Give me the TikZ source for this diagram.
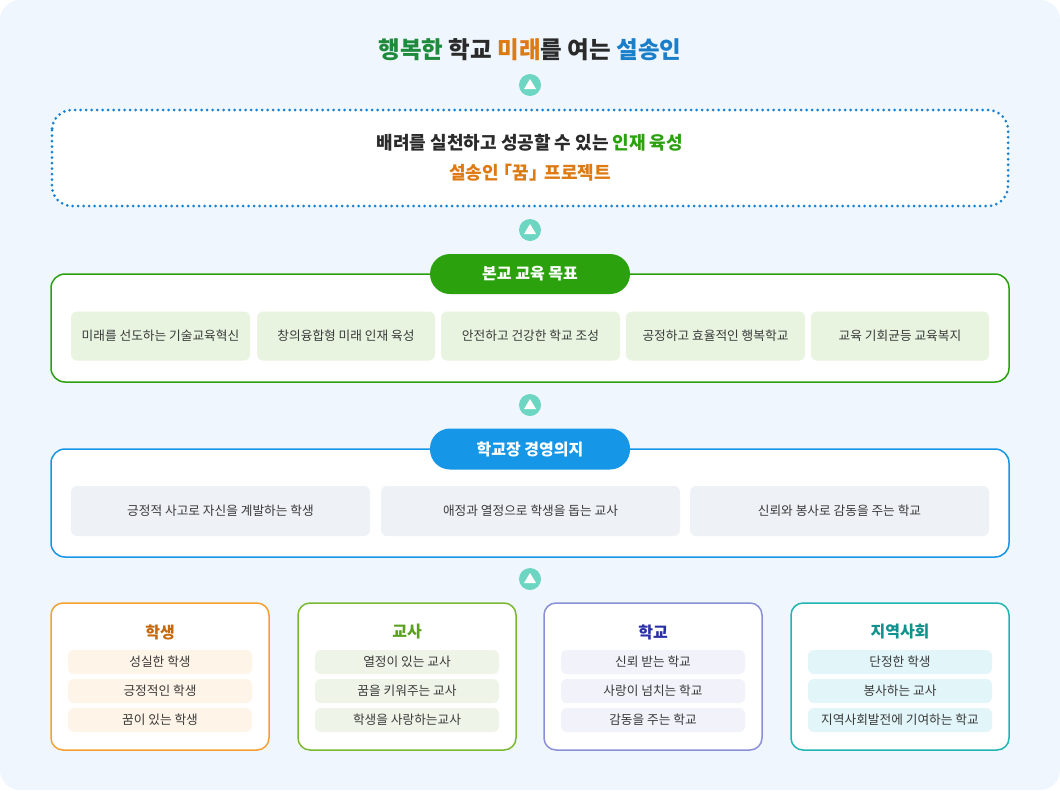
\documentclass[tikz,border=0pt]{standalone}
\usepackage{fontspec}
\usetikzlibrary{calc}
\setmainfont{Noto Sans CJK KR}
\newcommand\kb{\bfseries}
\definecolor{bgc}{HTML}{EFF6FE}
\definecolor{tgreen}{HTML}{1E8A3C}
\definecolor{torange}{HTML}{DE7A12}
\definecolor{tblue}{HTML}{1A7FC8}
\definecolor{tdark}{HTML}{2A2A2A}
\definecolor{mint}{HTML}{6DD6C2}
\definecolor{dblue}{HTML}{1A82D2}
\definecolor{ggreen}{HTML}{2BA10E}
\definecolor{gfill}{HTML}{E8F4E0}
\definecolor{bblue}{HTML}{1596E6}
\definecolor{bfill}{HTML}{EEF2F6}
\definecolor{cor}{HTML}{F5A030}\definecolor{corf}{HTML}{FFF4E8}\definecolor{cort}{HTML}{C8680A}
\definecolor{cgr}{HTML}{7AB832}\definecolor{cgrf}{HTML}{EEF5E8}\definecolor{cgrt}{HTML}{5BA021}
\definecolor{cpu}{HTML}{8A8FD8}\definecolor{cpuf}{HTML}{F1F2FA}\definecolor{cput}{HTML}{2A2FA8}
\definecolor{cte}{HTML}{1FB5B0}\definecolor{ctef}{HTML}{E2F6FA}\definecolor{ctet}{HTML}{12928E}
\definecolor{itxt}{HTML}{3A3A3A}
\begin{document}
\begin{tikzpicture}[x=1pt,y=-1pt,
  upc/.style={circle,fill=mint,minimum size=22pt,inner sep=0pt},
  item/.style={rounded corners=6pt,font=\fontsize{12.7}{14}\selectfont,text=itxt,inner sep=0pt},
  pill/.style={rounded corners=20pt,text=white,font=\kb\fontsize{16}{18}\selectfont,inner sep=0pt}]
\useasboundingbox (0,0) rectangle (1060,790);
\fill[bgc,rounded corners=20pt] (0,0) rectangle (1060,790);
\node (title) at (530,50) {\kb\fontsize{23.5}{26}\selectfont\textcolor{tgreen}{행복한} \textcolor{tdark}{학교} \textcolor{torange}{미래}\textcolor{tdark}{를 여는} \textcolor{tblue}{설송인}};
\foreach \n/\y in {u1/85,u2/230,u3/405,u4/579}{
  \node[upc] (\n) at (530,\y) {};
  \fill[white] ($(\n)+(-6,4)$) -- ($(\n)+(6,4)$) -- ($(\n)+(0,-6)$) -- cycle;
}
\draw[dblue,line width=3pt,dash pattern=on 0pt off 5.5pt,line cap=round,fill=white,rounded corners=20pt] (52,110) rectangle (1008,206);
\node (v1) at (530,143) {\kb\fontsize{18}{20}\selectfont\textcolor{tdark}{배려를 실천하고 성공할 수 있는} \textcolor{ggreen}{인재 육성}};
\node (v2) at (530,173) {\kb\fontsize{18}{20}\selectfont\textcolor{torange}{설송인 \kern-0.45em「꿈」\kern-0.15em 프로젝트}};
% green goals
\draw[ggreen,line width=1.5pt,fill=white,rounded corners=14pt] (51,274) rectangle (1009,382);
\node[pill,fill=ggreen,minimum width=200pt,minimum height=40pt] (p1) at (530,274) {본교 교육 목표};
\foreach \a/\b/\t [count=\i] in {71/250/미래를 선도하는 기술교육혁신,257/435/창의융합형 미래 인재 육성,441/620/안전하고 건강한 학교 조성,626/805/공정하고 효율적인 행복학교,811/989/교육 기회균등 교육복지}{
  \node[item,fill=gfill,minimum width={\b-\a},minimum height=49pt] (g\i) at ({(\a+\b)/2},336) {\t};
}
% blue
\draw[bblue,line width=1.5pt,fill=white,rounded corners=14pt] (51,449) rectangle (1009,557);
\node[pill,fill=bblue,minimum width=200pt,minimum height=41pt] (p2) at (530,449) {학교장 경영의지};
\foreach \a/\b/\t [count=\i] in {71/370/긍정적 사고로 자신을 계발하는 학생,381/680/애정과 열정으로 학생을 돕는 교사,690/989/신뢰와 봉사로 감동을 주는 학교}{
  \node[item,fill=bfill,minimum width={\b-\a},minimum height=50pt] (b\i) at ({(\a+\b)/2},511) {\t};
}
% bottom boxes
\foreach \x/\c/\f/\tc/\h/\ia/\ib/\ic [count=\i] in {
  51/cor/corf/cort/학생/성실한 학생/긍정적인 학생/꿈이 있는 학생,
  298/cgr/cgrf/cgrt/교사/열정이 있는 교사/꿈을 키워주는 교사/학생을 사랑하는교사,
  544/cpu/cpuf/cput/학교/신뢰 받는 학교/사랑이 넘치는 학교/감동을 주는 학교,
  791/cte/ctef/ctet/지역사회/단정한 학생/봉사하는 교사/지역사회발전에 기여하는 학교}{
  \draw[\c,line width=1.5pt,fill=white,rounded corners=12pt] (\x,603) rectangle ({\x+218},750);
  \node[text=\tc,font=\kb\fontsize{16}{18}\selectfont] (h\i) at ({\x+109},632) {\h};
  \node[item,fill=\f,minimum width=184pt,minimum height=24pt] (i\i a) at ({\x+109},662) {\ia};
  \node[item,fill=\f,minimum width=184pt,minimum height=24pt] (i\i b) at ({\x+109},691) {\ib};
  \node[item,fill=\f,minimum width=184pt,minimum height=24pt] (i\i c) at ({\x+109},720) {\ic};
}
\end{tikzpicture}
\end{document}
